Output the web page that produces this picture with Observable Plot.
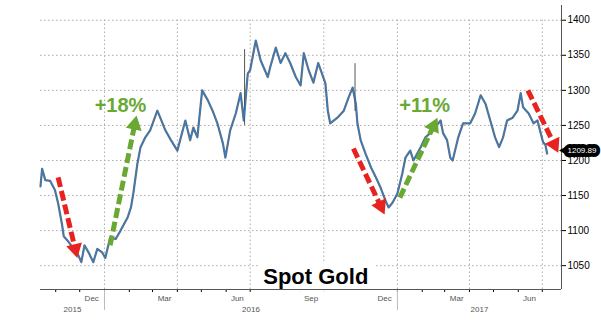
<!DOCTYPE html>
<html><head><meta charset="utf-8">
<script src="https://cdn.jsdelivr.net/npm/d3@7"></script>
<script src="https://cdn.jsdelivr.net/npm/@observablehq/plot@0.6"></script>
<style>
body{margin:0;background:#fff}
#chart svg{font-family:"Liberation Sans",Arial,sans-serif;overflow:visible}
</style>
</head><body><div id="chart"></div>
<script>
// ---- data ----
const dates = ["2015-10-13","2015-10-15","2015-10-19","2015-10-25","2015-10-31","2015-11-04","2015-11-09","2015-11-11","2015-11-17","2015-11-23","2015-11-28","2015-12-03","2015-12-07","2015-12-12","2015-12-18","2015-12-23","2015-12-29",
"2016-01-02","2016-01-08","2016-01-15","2016-01-21","2016-01-30","2016-02-03","2016-02-06","2016-02-11","2016-02-15","2016-02-21","2016-02-27","2016-03-07","2016-03-11","2016-03-17","2016-03-24","2016-04-01","2016-04-11","2016-04-17","2016-04-21","2016-04-26","2016-05-02","2016-05-09","2016-05-15","2016-05-21","2016-05-28","2016-05-31","2016-06-06","2016-06-13","2016-06-19","2016-06-23","2016-06-28","2016-07-01","2016-07-08","2016-07-14","2016-07-23","2016-07-26","2016-08-02","2016-08-08","2016-08-14","2016-08-20","2016-08-27","2016-09-02","2016-09-06","2016-09-12","2016-09-18","2016-09-24","2016-10-03","2016-10-06","2016-10-09","2016-10-18","2016-10-26","2016-11-01","2016-11-06","2016-11-10","2016-11-12","2016-11-16","2016-11-22","2016-11-29","2016-12-05","2016-12-11","2016-12-17","2016-12-21","2016-12-26",
"2017-01-01","2017-01-07","2017-01-11","2017-01-17","2017-01-21","2017-01-30","2017-02-05","2017-02-11","2017-02-17","2017-02-24","2017-02-27","2017-03-04","2017-03-08","2017-03-11","2017-03-18","2017-03-24","2017-04-02","2017-04-08","2017-04-15","2017-04-21","2017-04-27","2017-05-03","2017-05-08","2017-05-13","2017-05-18","2017-05-25","2017-05-31","2017-06-04","2017-06-07","2017-06-14","2017-06-20","2017-06-25","2017-06-29","2017-07-02","2017-07-05","2017-07-07"];
const prices = [1163,1188,1172,1171,1158,1139,1108,1092,1084,1075,1068,1055,1079,1069,1055,1074,1069,
1061,1090,1088,1100,1119,1133,1153,1195,1219,1233,1243,1271,1260,1243,1229,1214,1257,1229,1247,1233,1300,1286,1271,1253,1224,1204,1243,1267,1296,1257,1324,1329,1371,1343,1319,1333,1361,1339,1353,1339,1319,1307,1353,1329,1311,1339,1310,1271,1253,1261,1271,1290,1304,1281,1253,1229,1210,1190,1176,1161,1143,1133,1140,
1153,1181,1204,1214,1200,1219,1233,1239,1247,1257,1239,1229,1204,1200,1233,1253,1253,1267,1293,1281,1257,1233,1219,1233,1257,1261,1271,1296,1276,1267,1253,1257,1239,1226,1222,1209.89];
const wickDates = ["2016-06-24","2016-11-09"];
const wickLows = [1250, 1270];
const wickHighs = [1358, 1338];
const yTicks = [1050,1100,1150,1200,1250,1300,1350,1400];
const monthLabels = ["Dec","Mar","Jun","Sep","Dec","Mar","Jun"];
const monthLabelDates = ["2015-12-16","2016-03-16","2016-06-15","2016-09-15","2016-12-16","2017-03-16","2017-06-15"];
const yearLabels = ["2015","2016","2017"];
const yearStarts = ["2016-01-01","2017-01-01"];
const title = "Spot Gold";
const lastPrice = 1209.89;
// annotation arrows
const arrowStartDates = ["2015-11-04","2016-01-08","2016-11-07","2017-01-04","2017-06-13"];
const arrowStartPrices = [1176,1079,1217,1147,1300];
const arrowEndDates = ["2015-11-28","2016-02-10","2016-12-16","2017-02-20","2017-07-21"];
const arrowEndPrices = [1061,1264,1123,1261,1211];
const arrowKinds = ["down","up","down","up","down"];
const gainLabels = ["+18%","+11%"];
const gainLabelDates = ["2016-01-21","2017-02-04"];
const gainLabelPrices = [1269,1269];

// ---- build ----
const parse = d3.utcParse("%Y-%m-%d");
const series = dates.map((d,i)=>({date:parse(d), price:prices[i]}));
const wicks = wickDates.map((d,i)=>({date:parse(d), lo:wickLows[i], hi:wickHighs[i]}));
const xDomain = [parse("2015-10-13"), parse("2017-07-25")];
const yDomain = [1016, 1421];
const RED = "#e8231f", GREEN = "#6aa834", BLUE = "#2f7dc8", AX = "#555";
const HEAD_R = 6;

const monthTicks = d3.utcMonth.range(d3.utcMonth.ceil(xDomain[0]), xDomain[1]);
const quarterGrid = monthTicks.filter(d => d.getUTCMonth() % 3 === 0);
const months = monthLabelDates.map((d,i)=>({date:parse(d), label:monthLabels[i]}));
const yb = [xDomain[0], ...yearStarts.map(parse), xDomain[1]];
const years = yearLabels.map((l,i)=>({date:new Date((+yb[i] + +yb[i+1])/2), label:l}));
const seps = yearStarts.map(parse);
const last = {date: series[series.length-1].date, price: lastPrice};

function baseMarks() {
  return [
    Plot.ruleY(yTicks, {x1: xDomain[0], x2: xDomain[1], stroke: "#aaa", strokeDasharray: "1.5,2.5"}),
    Plot.ruleX(quarterGrid, {y1: yDomain[0], y2: 1400, stroke: "#aaa", strokeDasharray: "1.5,2.5"}),
    Plot.ruleX(seps, {y1: yDomain[0], y2: yDomain[0] - 30, stroke: "#bbb"}),
    Plot.text([title], {frameAnchor: "bottom", x: () => parse("2016-09-21"), dy: -6, lineAnchor: "bottom",
      fontSize: 22, fontWeight: "bold", fill: "#000", stroke: "#fff", strokeWidth: 16, strokeLinejoin: "miter"}),
    Plot.ruleX(wicks, {x: "date", y1: "lo", y2: "hi", stroke: "#555", strokeWidth: 1}),
    Plot.line(series, {x: "date", y: "price", stroke: "#333", strokeWidth: 2.2, strokeOpacity: 0.7}),
    Plot.line(series, {x: "date", y: "price", stroke: BLUE, strokeWidth: 1.1}),
    Plot.ruleY([yDomain[0]], {stroke: AX}),
    Plot.ruleX([xDomain[1]], {stroke: AX}),
    Plot.text(months, {x: "date", text: "label", frameAnchor: "bottom", dy: 11, fill: AX, fontSize: 8}),
    Plot.text(years, {x: "date", text: "label", frameAnchor: "bottom", dy: 22, fill: AX, fontSize: 8}),
    Plot.text(gainLabels, {x: (d,i) => parse(gainLabelDates[i]), y: (d,i) => gainLabelPrices[i], text: d => d,
      fontSize: 20, fontWeight: "bold", fill: GREEN, lineAnchor: "bottom"}),
    Plot.dot([last], {x: () => xDomain[1], y: "price", symbol: "triangle", r: 3.5, rotate: -90, fill: "#000", dx: 3, dy: -3}),
    Plot.text([last], {x: () => xDomain[1], y: "price", text: d => d3.format(".2f")(d.price), textAnchor: "start", dx: 6, dy: -3,
      fill: "#fff", stroke: "#000", strokeWidth: 8, strokeLinejoin: "round", fontSize: 8, paintOrder: "stroke"})
  ];
}

function build(extra) {
  return Plot.plot({
    width: 601, height: 326,
    marginLeft: 40, marginRight: 40, marginTop: 5, marginBottom: 37,
    style: {fontFamily: "Liberation Sans, Arial, sans-serif", background: "#fff"},
    x: {type: "utc", domain: xDomain, ticks: monthTicks, tickFormat: () => "", tickSize: 3, label: null, line: false},
    y: {domain: yDomain, axis: "right", ticks: yTicks, tickSize: 4, tickPadding: 2, label: null,
        tickFormat: d => String(d)},
    marks: [...baseMarks(), ...extra]
  });
}

const probe = build([]);
const sx = probe.scale("x"), sy = probe.scale("y");
const shafts = [], heads = [];
arrowKinds.forEach((k,i) => {
  const x0 = sx.apply(parse(arrowStartDates[i])), y0 = sy.apply(arrowStartPrices[i]);
  const x1 = sx.apply(parse(arrowEndDates[i])), y1 = sy.apply(arrowEndPrices[i]);
  const L = Math.hypot(x1-x0, y1-y0), ux = (x1-x0)/L, uy = (y1-y0)/L;
  const tipDist = 2*Math.sqrt(HEAD_R*HEAD_R*Math.PI/(3*Math.sqrt(3)));
  const cx = x1 - ux*tipDist, cy = y1 - uy*tipDist;
  const ex = x1 - ux*(tipDist*1.2), ey = y1 - uy*(tipDist*1.2);
  shafts.push({kind: k, d0: parse(arrowStartDates[i]), p0: arrowStartPrices[i], d1: sx.invert(ex), p1: sy.invert(ey)});
  heads.push({kind: k, d: sx.invert(cx), p: sy.invert(cy), rot: Math.atan2(ux, -uy)*180/Math.PI});
});
const extra = [];
for (const [k, color] of [["down", RED], ["up", GREEN]]) {
  extra.push(
    Plot.link(shafts.filter(s => s.kind === k), {x1: "d0", y1: "p0", x2: "d1", y2: "p1", stroke: color, strokeWidth: 5, strokeDasharray: "10,4", strokeLinecap: "butt"}),
    Plot.dot(heads.filter(h => h.kind === k), {x: "d", y: "p", symbol: "triangle", r: HEAD_R, rotate: "rot", fill: color, stroke: "none"})
  );
}
const chart = build(extra);
document.getElementById("chart").appendChild(chart);
</script>
</body></html>
